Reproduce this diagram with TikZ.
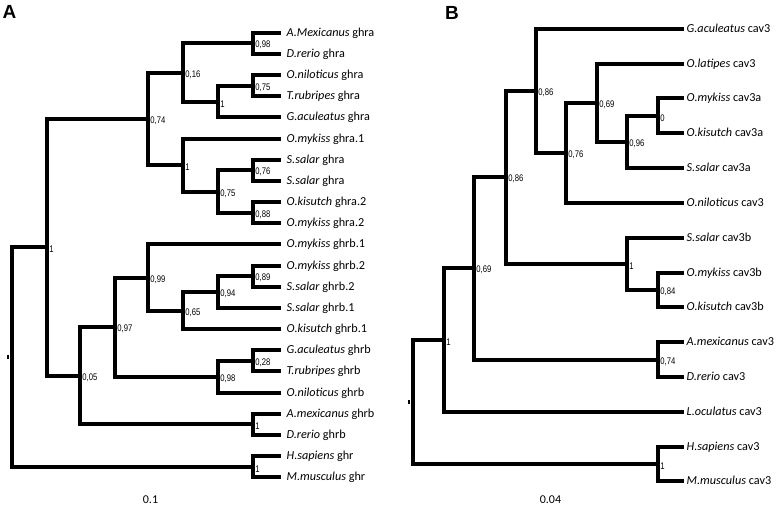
\documentclass[tikz,border=0pt]{standalone}
\usepackage{fontspec}
\setmainfont{Carlito}
\newfontfamily\bsfont[FakeStretch=0.8]{Liberation Sans}
\newfontfamily\panelfont{Liberation Sans}
\begin{document}
\begin{tikzpicture}[x=1pt,y=-1pt,
  branch/.style={line width=4pt, line join=miter, line cap=butt, black},
  leafA/.style={anchor=west, inner xsep=6pt, inner ysep=0pt, text height=7.5pt, text depth=0pt, font=\fontsize{12.2}{12}\selectfont},
  leafB/.style={leafA, inner xsep=3pt},
  boot/.style={anchor=west, inner sep=0pt, font=\bsfont\fontsize{9.6}{10}\selectfont, xshift=2.2pt, yshift=-2pt},
  paneltitle/.style={inner sep=0pt, font=\panelfont\bfseries\fontsize{19}{19}\selectfont},
  scalelab/.style={inner sep=0pt, font=\fontsize{12}{12}\selectfont},
  roottick/.style={line width=1.6pt}]
\useasboundingbox (0,0) rectangle (778,511);

\begin{scope}[shift={(0.5,0.5)}]
% ---------------- Panel A ----------------
\node[paneltitle] (tA) at (9,11.5) {A};

\node[leafA] (a0)  at (280,32.5)  {\textit{A.Mexicanus} ghra};
\node[leafA] (a1)  at (280,53.5)  {\textit{D.rerio} ghra};
\node[leafA] (a2)  at (280,74.5)  {\textit{O.niloticus} ghra};
\node[leafA] (a3)  at (280,95.5)  {\textit{T.rubripes} ghra};
\node[leafA] (a4)  at (280,116.5) {\textit{G.aculeatus} ghra};
\node[leafA] (a5)  at (280,138.5) {\textit{O.mykiss} ghra.1};
\node[leafA] (a6)  at (280,159.5) {\textit{S.salar} ghra};
\node[leafA] (a7)  at (280,180.5) {\textit{S.salar} ghra};
\node[leafA] (a8)  at (280,201.5) {\textit{O.kisutch} ghra.2};
\node[leafA] (a9)  at (280,222.5) {\textit{O.mykiss} ghra.2};
\node[leafA] (a10) at (280,243.5) {\textit{O.mykiss} ghrb.1};
\node[leafA] (a11) at (280,265.5) {\textit{O.mykiss} ghrb.2};
\node[leafA] (a12) at (280,286.5) {\textit{S.salar} ghrb.2};
\node[leafA] (a13) at (280,307.5) {\textit{S.salar} ghrb.1};
\node[leafA] (a14) at (280,328.5) {\textit{O.kisutch} ghrb.1};
\node[leafA] (a15) at (280,349.5) {\textit{G.aculeatus} ghrb};
\node[leafA] (a16) at (280,370.5) {\textit{T.rubripes} ghrb};
\node[leafA] (a17) at (280,392.5) {\textit{O.niloticus} ghrb};
\node[leafA] (a18) at (280,413.5) {\textit{A.mexicanus} ghrb};
\node[leafA] (a19) at (280,434.5) {\textit{D.rerio} ghrb};
\node[leafA] (a20) at (280,455.5) {\textit{H.sapiens} ghr};
\node[leafA] (a21) at (280,476.5) {\textit{M.musculus} ghr};

\coordinate (An098a) at (252.5,42.5);
\coordinate (An075a) at (252.5,85.5);
\coordinate (An1a)   at (217.5,101.5);
\coordinate (AN016)  at (182.5,72.5);
\coordinate (An076)  at (252.5,169.5);
\coordinate (An088)  at (252.5,212.5);
\coordinate (An075b) at (217.5,191.5);
\coordinate (AN1b)   at (182.5,164.5);
\coordinate (AN074)  at (147.5,118.5);
\coordinate (An089)  at (252.5,275.5);
\coordinate (An094)  at (217.5,291.5);
\coordinate (AN065)  at (182.5,310.5);
\coordinate (AN099)  at (147.5,277.5);
\coordinate (An028)  at (252.5,360.5);
\coordinate (An098b) at (217.5,376.5);
\coordinate (AN097)  at (114.5,326.5);
\coordinate (An1c)   at (252.5,423.5);
\coordinate (AN005)  at (79.5,375.5);
\coordinate (AN1)    at (46.5,246.5);
\coordinate (An1d)   at (252.5,466.5);
\coordinate (AR0)    at (11.5,356.5);

\draw[branch] (An098a) |- (a0);  \draw[branch] (An098a) |- (a1);
\draw[branch] (An075a) |- (a2);  \draw[branch] (An075a) |- (a3);
\draw[branch] (An1a) |- (An075a); \draw[branch] (An1a) |- (a4);
\draw[branch] (AN016) |- (An098a); \draw[branch] (AN016) |- (An1a);
\draw[branch] (An076) |- (a6);  \draw[branch] (An076) |- (a7);
\draw[branch] (An088) |- (a8);  \draw[branch] (An088) |- (a9);
\draw[branch] (An075b) |- (An076); \draw[branch] (An075b) |- (An088);
\draw[branch] (AN1b) |- (a5); \draw[branch] (AN1b) |- (An075b);
\draw[branch] (AN074) |- (AN016); \draw[branch] (AN074) |- (AN1b);
\draw[branch] (An089) |- (a11); \draw[branch] (An089) |- (a12);
\draw[branch] (An094) |- (An089); \draw[branch] (An094) |- (a13);
\draw[branch] (AN065) |- (An094); \draw[branch] (AN065) |- (a14);
\draw[branch] (AN099) |- (a10); \draw[branch] (AN099) |- (AN065);
\draw[branch] (An028) |- (a15); \draw[branch] (An028) |- (a16);
\draw[branch] (An098b) |- (An028); \draw[branch] (An098b) |- (a17);
\draw[branch] (AN097) |- (AN099); \draw[branch] (AN097) |- (An098b);
\draw[branch] (An1c) |- (a18); \draw[branch] (An1c) |- (a19);
\draw[branch] (AN005) |- (AN097); \draw[branch] (AN005) |- (An1c);
\draw[branch] (AN1) |- (AN074); \draw[branch] (AN1) |- (AN005);
\draw[branch] (An1d) |- (a20); \draw[branch] (An1d) |- (a21);
\draw[branch] (AR0) |- (AN1); \draw[branch] (AR0) |- (An1d);
\draw[roottick] ([xshift=-4pt]AR0) ++(0,-2.2) -- ++(0,4.4);

\node[boot] (bA1)  at (An098a) {0,98};
\node[boot] (bA2)  at (An075a) {0,75};
\node[boot] (bA3)  at (An1a)   {1};
\node[boot] (bA4)  at (AN016)  {0,16};
\node[boot] (bA5)  at (AN074)  {0,74};
\node[boot] (bA6)  at (AN1b)   {1};
\node[boot] (bA7)  at (An075b) {0,75};
\node[boot] (bA8)  at (An076)  {0,76};
\node[boot] (bA9)  at (An088)  {0,88};
\node[boot] (bA10) at (AN099)  {0,99};
\node[boot] (bA11) at (AN065)  {0,65};
\node[boot] (bA12) at (An094)  {0,94};
\node[boot] (bA13) at (An089)  {0,89};
\node[boot] (bA14) at (AN097)  {0,97};
\node[boot] (bA15) at (An098b) {0,98};
\node[boot] (bA16) at (An028)  {0,28};
\node[boot] (bA17) at (AN005)  {0,05};
\node[boot] (bA18) at (An1c)   {1};
\node[boot] (bA19) at (AN1)    {1};
\node[boot] (bA20) at (An1d)   {1};

\node[scalelab] (sA) at (150,499.5) {0.1};

% ---------------- Panel B ----------------
\node[paneltitle] (tB) at (451.5,12) {B};

\node[leafB] (b0)  at (683,28.5)  {\textit{G.aculeatus} cav3};
\node[leafB] (b1)  at (683,63.5)  {\textit{O.latipes} cav3};
\node[leafB] (b2)  at (683,97.5)  {\textit{O.mykiss} cav3a};
\node[leafB] (b3)  at (683,132.5) {\textit{O.kisutch} cav3a};
\node[leafB] (b4)  at (683,167.5) {\textit{S.salar} cav3a};
\node[leafB] (b5)  at (683,202.5) {\textit{O.niloticus} cav3};
\node[leafB] (b6)  at (683,237.5) {\textit{S.salar} cav3b};
\node[leafB] (b7)  at (683,272.5) {\textit{O.mykiss} cav3b};
\node[leafB] (b8)  at (683,306.5) {\textit{O.kisutch} cav3b};
\node[leafB] (b9)  at (683,341.5) {\textit{A.mexicanus} cav3};
\node[leafB] (b10) at (683,376.5) {\textit{D.rerio} cav3};
\node[leafB] (b11) at (683,411.5) {\textit{L.oculatus} cav3};
\node[leafB] (b12) at (683,446.5) {\textit{H.sapiens} cav3};
\node[leafB] (b13) at (683,480.5) {\textit{M.musculus} cav3};

\coordinate (Bm0)    at (657.5,115.5);
\coordinate (Bm096)  at (626.5,141.5);
\coordinate (Bm069a) at (596.5,102.5);
\coordinate (Bm076)  at (565.5,152.5);
\coordinate (Bm086a) at (535.5,90.5);
\coordinate (Bm084)  at (657.5,289.5);
\coordinate (Bm1a)   at (626.5,263.5);
\coordinate (Bm086b) at (505.5,176.5);
\coordinate (Bm074)  at (657.5,359.5);
\coordinate (Bm069b) at (473.5,267.5);
\coordinate (Bm1b)   at (443.5,339.5);
\coordinate (Bm1c)   at (657.5,463.5);
\coordinate (BR0)    at (412.5,401.5);

\draw[branch] (Bm0) |- (b2); \draw[branch] (Bm0) |- (b3);
\draw[branch] (Bm096) |- (Bm0); \draw[branch] (Bm096) |- (b4);
\draw[branch] (Bm069a) |- (b1); \draw[branch] (Bm069a) |- (Bm096);
\draw[branch] (Bm076) |- (Bm069a); \draw[branch] (Bm076) |- (b5);
\draw[branch] (Bm086a) |- (b0); \draw[branch] (Bm086a) |- (Bm076);
\draw[branch] (Bm084) |- (b7); \draw[branch] (Bm084) |- (b8);
\draw[branch] (Bm1a) |- (b6); \draw[branch] (Bm1a) |- (Bm084);
\draw[branch] (Bm086b) |- (Bm086a); \draw[branch] (Bm086b) |- (Bm1a);
\draw[branch] (Bm074) |- (b9); \draw[branch] (Bm074) |- (b10);
\draw[branch] (Bm069b) |- (Bm086b); \draw[branch] (Bm069b) |- (Bm074);
\draw[branch] (Bm1b) |- (Bm069b); \draw[branch] (Bm1b) |- (b11);
\draw[branch] (Bm1c) |- (b12); \draw[branch] (Bm1c) |- (b13);
\draw[branch] (BR0) |- (Bm1b); \draw[branch] (BR0) |- (Bm1c);
\draw[roottick] ([xshift=-4pt]BR0) ++(0,-2.2) -- ++(0,4.4);

\node[boot] (bB1)  at (Bm086a) {0,86};
\node[boot] (bB2)  at (Bm069a) {0,69};
\node[boot] (bB3)  at (Bm0)    {0};
\node[boot] (bB4)  at (Bm096)  {0,96};
\node[boot] (bB5)  at (Bm076)  {0,76};
\node[boot] (bB6)  at (Bm086b) {0,86};
\node[boot] (bB7)  at (Bm1a)   {1};
\node[boot] (bB8)  at (Bm084)  {0,84};
\node[boot] (bB9)  at (Bm069b) {0,69};
\node[boot] (bB10) at (Bm074)  {0,74};
\node[boot] (bB11) at (Bm1b)   {1};
\node[boot] (bB12) at (Bm1c)   {1};

\node[scalelab] (sB) at (550,499.5) {0.04};
\end{scope}
\end{tikzpicture}
\end{document}
